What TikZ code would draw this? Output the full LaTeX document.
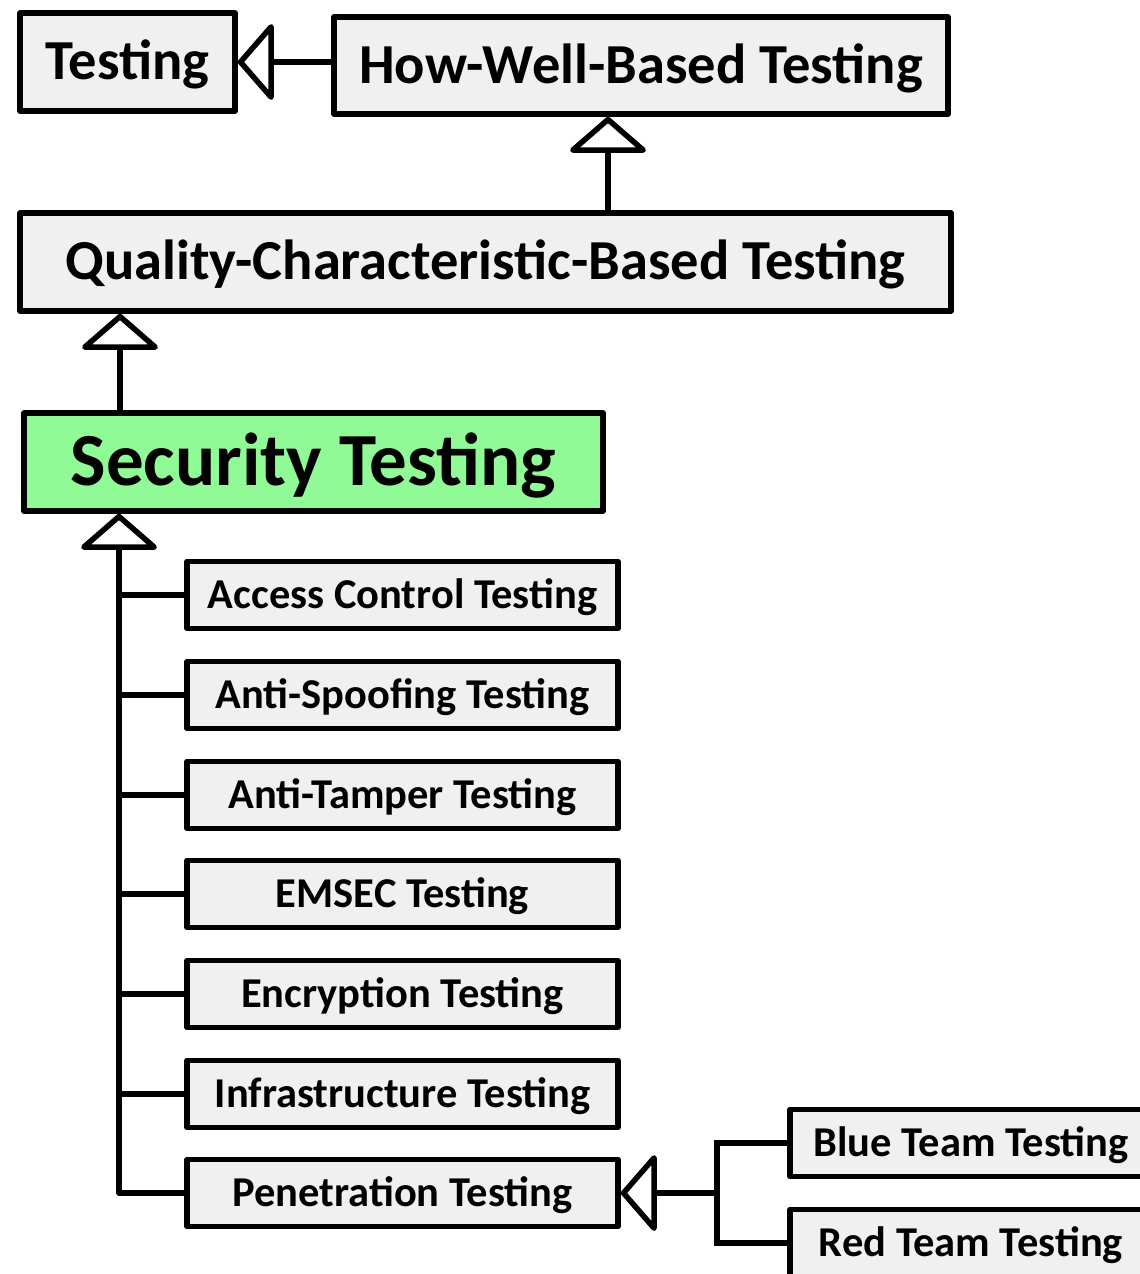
\documentclass[tikz,border=0pt]{standalone}
\usepackage{fontspec}
\setmainfont{Carlito}
\usetikzlibrary{arrows.meta,calc}
\definecolor{boxgray}{RGB}{240,240,240}
\definecolor{secgreen}{RGB}{144,250,150}
\begin{document}
\begin{tikzpicture}[x=1pt,y=-1pt,
  box/.style={draw,line width=5.5pt,fill=boxgray,rectangle,inner sep=0pt,line join=round},
  big/.style={box,minimum height=98pt,text height=35.6pt,text depth=0pt,font=\bfseries\fontsize{56.5}{60}\selectfont},
  sec/.style={box,fill=secgreen,minimum height=98pt,text height=47pt,text depth=0pt,font=\bfseries\fontsize{75}{80}\selectfont},
  leaf/.style={box,minimum height=67pt,minimum width=431pt,text height=26.8pt,text depth=0pt,font=\bfseries\fontsize{42.5}{48}\selectfont},
  conn/.style={line width=5.5pt,line join=miter},
  inh/.style={conn,line join=round,-{Triangle[open,length=37pt,width=84pt,round]}}
]
\useasboundingbox (0,0) rectangle (1140,1274);
\fill[white] (0,0) rectangle (1140,1274);
\clip (0,0) rectangle (1140,1274);

\node[big,minimum width=215pt] (T) at (127.5,62) {Testing};
\node[big,minimum width=614pt,minimum height=97pt] (HW) at (641,65.5) {How-Well-Based Testing};
\node[big,minimum width=931pt] (QCB) at (485.5,262) {Quality-Characteristic-Based Testing};
\node[sec,minimum width=579pt] (ST) at (313.5,462) {Security Testing};

\node[leaf] (AC) at (402.5,595) {Access Control Testing};
\node[leaf] (AS) at (402.5,695) {Anti-Spoofing Testing};
\node[leaf] (AT) at (402.5,795) {Anti-Tamper Testing};
\node[leaf] (EM) at (402.5,894) {EMSEC Testing};
\node[leaf] (EN) at (402.5,994) {Encryption Testing};
\node[leaf] (IN) at (402.5,1094) {Infrastructure Testing};
\node[leaf] (PT) at (402.5,1193) {Penetration Testing};

\node[leaf,minimum width=362pt] (BT) at (971,1143) {Blue Team Testing};
\node[leaf,minimum width=362pt] (RT) at (971,1243) {Red Team Testing};

\coordinate (upx) at (608,0);
\coordinate (qx) at (120,0);
\coordinate (trunk) at (119,0);
\coordinate (fork) at (717,0);

\draw[inh] (HW.west |- T.east) -- (T.east);
\draw[inh] (upx |- QCB.north) -- (upx |- HW.south);
\draw[inh] (qx |- ST.north) -- (qx |- QCB.south);
\draw[inh] (PT.west) -| (trunk |- ST.south);
\foreach \n in {AC,AS,AT,EM,EN,IN}{
  \draw[conn] (\n.west) -- (trunk |- \n.west);
}
\draw[inh] (fork |- PT.east) -- (PT.east);
\draw[conn] (BT.west) -| (fork |- PT.east) |- (RT.west);
\end{tikzpicture}
\end{document}
